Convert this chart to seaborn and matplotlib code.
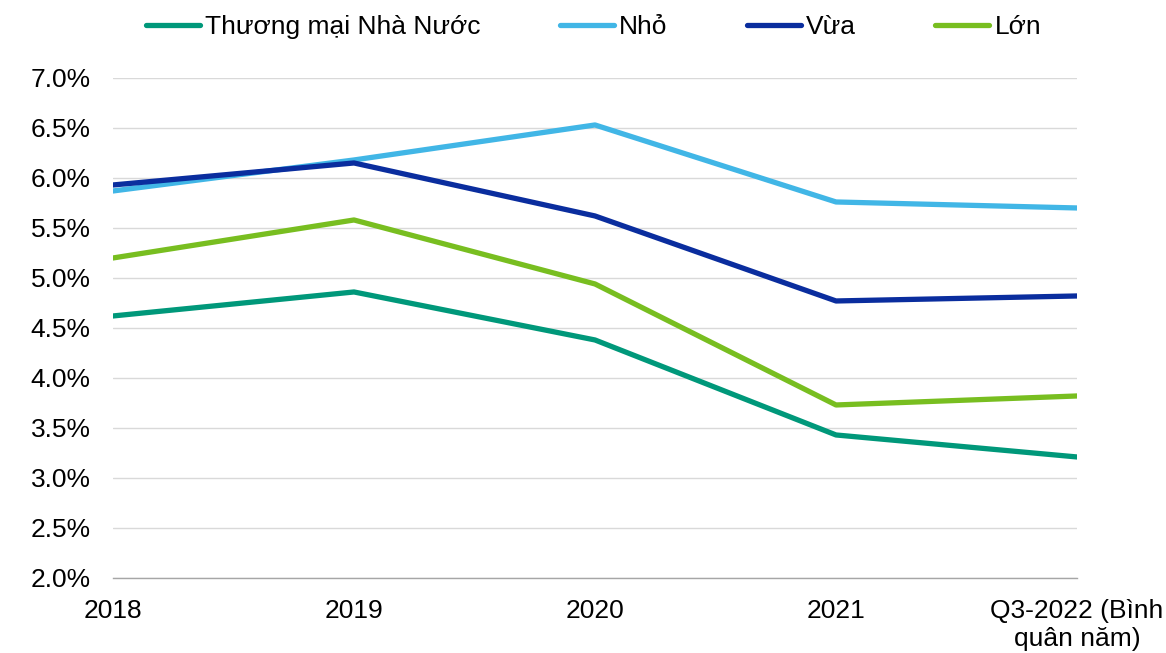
import pandas as pd
import matplotlib.pyplot as plt
import matplotlib.ticker as mtick
import seaborn as sns

# data (%)
years = ['2018', '2019', '2020', '2021', 'Q3-2022 (Bình\nquân năm)']
series = ['Thương mại Nhà Nước', 'Nhỏ', 'Vừa', 'Lớn']
nha_nuoc = [4.62, 4.86, 4.38, 3.43, 3.21]
nho = [5.87, 6.18, 6.53, 5.76, 5.70]
vua = [5.93, 6.15, 5.62, 4.77, 4.82]
lon = [5.20, 5.58, 4.94, 3.73, 3.82]
colors = ['#00987A', '#41B6E6', '#0A2D9E', '#78BE20']

df = pd.DataFrame({'Năm': years * 4,
                   'Nhóm': [s for s in series for _ in years],
                   'Lãi suất': nha_nuoc + nho + vua + lon})

sns.set_theme(style='white')
plt.rcParams['font.family'] = ['Liberation Sans', 'DejaVu Sans']
plt.rcParams['text.color'] = 'black'

fs = 19
fig = plt.figure(figsize=(11.66, 6.53), dpi=100)
ax = fig.add_axes([0.0969, 0.1149, 0.8268, 0.7657])

sns.lineplot(data=df, x='Năm', y='Lãi suất', hue='Nhóm', hue_order=series,
             palette=colors, linewidth=3.8, sort=False, ax=ax)

ax.set_xlim(0, len(years) - 1)
ax.set_ylim(2.0, 7.0)
ax.set_yticks([2.0 + 0.5 * i for i in range(11)])
ax.yaxis.set_major_formatter(mtick.FuncFormatter(lambda v, p: f'{v:.1f}%'))
ax.grid(axis='y', color='#D9D9D9', linewidth=1)
ax.set_axisbelow(True)
ax.set_xlabel('')
ax.set_ylabel('')

for s in ['top', 'right', 'left']:
    ax.spines[s].set_visible(False)
ax.spines['bottom'].set_color('#A6A6A6')
ax.spines['bottom'].set_linewidth(1)

ax.tick_params(axis='x', length=5, width=1, color='#A6A6A6', direction='out',
               labelsize=fs, labelcolor='black', pad=10)
ax.tick_params(axis='y', length=0, labelsize=fs, labelcolor='black', pad=16)

leg = ax.legend(loc='center', bbox_to_anchor=(0.509, 0.958), bbox_transform=fig.transFigure,
                ncol=4, frameon=False, fontsize=fs, handlelength=2.05,
                handletextpad=0.2, columnspacing=3.0, borderaxespad=0)
for t in leg.get_texts():
    t.set_color('black')

fig.savefig('out.png', dpi=100)
